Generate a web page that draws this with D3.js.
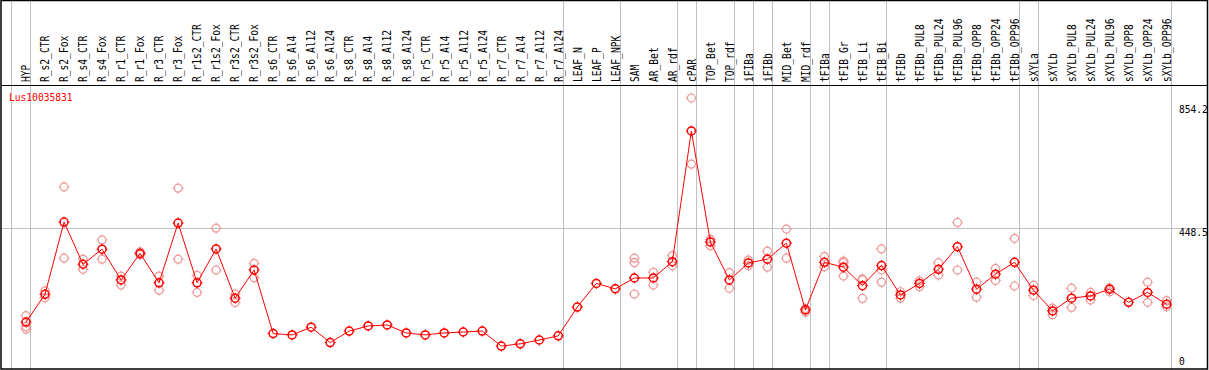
<!DOCTYPE html>
<html>
<head>
<meta charset="utf-8">
<script src="https://d3js.org/d3.v7.min.js"></script>
<style>
  body { margin: 0; background: #fff; }
  text { font-family: "DejaVu Sans Mono", monospace; }
</style>
</head>
<body>
<div id="chart"></div>
<script>
var geneName = "Lus10035831";

var categories = ["HYP", "R_s2_CTR", "R_s2_Fox", "R_s4_CTR", "R_s4_Fox", "R_r1_CTR", "R_r1_Fox",
  "R_r3_CTR", "R_r3_Fox", "R_r1s2_CTR", "R_r1s2_Fox", "R_r3s2_CTR", "R_r3s2_Fox",
  "R_s6_CTR", "R_s6_Al4", "R_s6_Al12", "R_s6_Al24", "R_s8_CTR", "R_s8_Al4", "R_s8_Al12", "R_s8_Al24",
  "R_r5_CTR", "R_r5_Al4", "R_r5_Al12", "R_r5_Al24", "R_r7_CTR", "R_r7_Al4", "R_r7_Al12", "R_r7_Al24",
  "LEAF_N", "LEAF_P", "LEAF_NPK", "SAM", "AR_Bet", "AR_rdf", "cPAR", "TOP_Bet", "TOP_rdf",
  "iFIBa", "iFIBb", "MID_Bet", "MID_rdf", "tFIBa", "tFIB_Gr", "tFIB_Li", "tFIB_Bi", "tFIBb",
  "tFIBb_PUL8", "tFIBb_PUL24", "tFIBb_PUL96", "tFIBb_OPP8", "tFIBb_OPP24", "tFIBb_OPP96",
  "sXYLa", "sXYLb", "sXYLb_PUL8", "sXYLb_PUL24", "sXYLb_PUL96", "sXYLb_OPP8", "sXYLb_OPP24", "sXYLb_OPP96"];

// mean expression per sample
var means = [153, 240, 466, 334, 381, 285, 368, 276, 463, 276, 382, 228, 316,
  117, 113, 137, 89, 125, 141, 144, 119,
  113, 119, 122, 125, 78, 85, 97, 110,
  200, 274, 257, 291, 291, 342, 751, 404, 285,
  338, 350, 400, 191, 340, 325, 267, 330, 238,
  274, 318, 389, 256, 303, 340,
  253, 188, 228, 235, 256, 215, 246, 209];

// individual replicates (empty where they sit on the mean)
var replicates = [[173, 139, 131], [251, 229], [576, 353], [350, 318], [410, 350], [297, 269], [373, 364],
  [297, 253], [572, 350], [299, 246], [447, 316], [241, 214], [337, 292],
  [], [], [], [], [], [], [], [],
  [], [], [], [], [], [], [], [],
  [], [], [], [353, 339, 241], [309, 269], [361, 329], [854.2, 647], [412, 392], [308, 259],
  [347, 329], [375, 325], [444, 353], [184, 195], [358, 326], [344, 339, 297], [288, 285, 227], [382, 316, 278], [248, 228],
  [282, 264], [339, 300], [465, 316], [278, 231], [321, 283], [415, 266],
  [269, 236], [197, 176], [259, 199], [246, 222], [260, 248], [], [278, 215], [220, 201]];

var yTicks = [854.2, 448.5, 0];
var gridValues = [448.5];
var separatorsAfter = ["HYP", "R_r7_Al24", "LEAF_NPK", "AR_rdf", "cPAR", "TOP_rdf", "iFIBa", "iFIBb",
  "MID_rdf", "tFIBa", "tFIB_Bi", "tFIBb_OPP96", "sXYLa", "sXYLb_OPP96"];

var width = 1209, height = 370;

var svg = d3.select("#chart").append("svg")
  .attr("width", width)
  .attr("height", height);

var x = d3.scalePoint().domain(categories).range([26, 1166.6]);
var step = x.step();
var y = d3.scaleLinear().domain([0, 854.2]).range([371, 98]);

// gray separators
var sepX = [x(categories[0]) - step + 4.3].concat(separatorsAfter.map(function (c) { return x(c) + 4.3; }));
svg.selectAll(".sep").data(sepX).enter().append("line")
  .attr("x1", function (d) { return Math.round(d) + 0.5; })
  .attr("x2", function (d) { return Math.round(d) + 0.5; })
  .attr("y1", 0).attr("y2", height)
  .attr("stroke", "#c0c0c0").attr("stroke-width", 1);

svg.selectAll(".grid").data(gridValues).enter().append("line")
  .attr("x1", 1).attr("x2", 1207)
  .attr("y1", function (d) { return Math.round(y(d)) + 0.5; })
  .attr("y2", function (d) { return Math.round(y(d)) + 0.5; })
  .attr("stroke", "#c0c0c0").attr("stroke-width", 1);

// sample labels (tall, narrow glyphs)
svg.selectAll(".lab").data(categories).enter().append("text")
  .attr("transform", function (d) { return "translate(" + (x(d) + 4.3) + ",82) rotate(-90) scale(0.8,1)"; })
  .attr("font-size", "12px")
  .attr("fill", "#000")
  .text(function (d) { return d; });

// y labels
svg.selectAll(".ylab").data(yTicks).enter().append("text")
  .attr("x", 1179)
  .attr("y", function (d, i) { return i === 0 ? y(d) + 15 : (d === 0 ? y(d) - 6 : y(d) + 8); })
  .attr("font-size", "9.6px")
  .attr("fill", "#000")
  .text(function (d) { return d; });

svg.append("text")
  .attr("x", 9).attr("y", 101)
  .attr("font-size", "9.6px")
  .attr("fill", "red")
  .text(geneName);

function marker(g, color, sw) {
  g.append("circle").attr("r", 4).attr("fill", "none").attr("stroke", color).attr("stroke-width", sw);
  g.append("path")
    .attr("d", "M0,-5.5V-3.5M0,3.5V5.5M-5.5,0H-3.5M3.5,0H5.5")
    .attr("stroke", color).attr("stroke-width", 1);
}

// replicates
var repPts = [];
categories.forEach(function (c, i) {
  replicates[i].forEach(function (v) { repPts.push({ c: c, v: v }); });
});
svg.selectAll(".rep").data(repPts).enter().append("g")
  .attr("transform", function (d) { return "translate(" + x(d.c) + "," + y(d.v) + ")"; })
  .each(function () { marker(d3.select(this), "#ee9a9a", 1.2); });

// mean line
svg.append("path")
  .datum(means)
  .attr("fill", "none")
  .attr("stroke", "red")
  .attr("stroke-width", 1)
  .attr("d", d3.line().x(function (d, i) { return x(categories[i]); }).y(function (d) { return y(d); }));

svg.selectAll(".pt").data(means).enter().append("g")
  .attr("transform", function (d, i) { return "translate(" + x(categories[i]) + "," + y(d) + ")"; })
  .each(function () { marker(d3.select(this), "red", 1.5); });

// frame
svg.append("rect")
  .attr("x", 1).attr("y", 0.5).attr("width", 1206.5).attr("height", 368.5)
  .attr("fill", "none").attr("stroke", "#000").attr("stroke-width", 1.5);
svg.append("line")
  .attr("x1", 1).attr("x2", 1208).attr("y1", 85.5).attr("y2", 85.5)
  .attr("stroke", "#000").attr("stroke-width", 1);
</script>
</body>
</html>
